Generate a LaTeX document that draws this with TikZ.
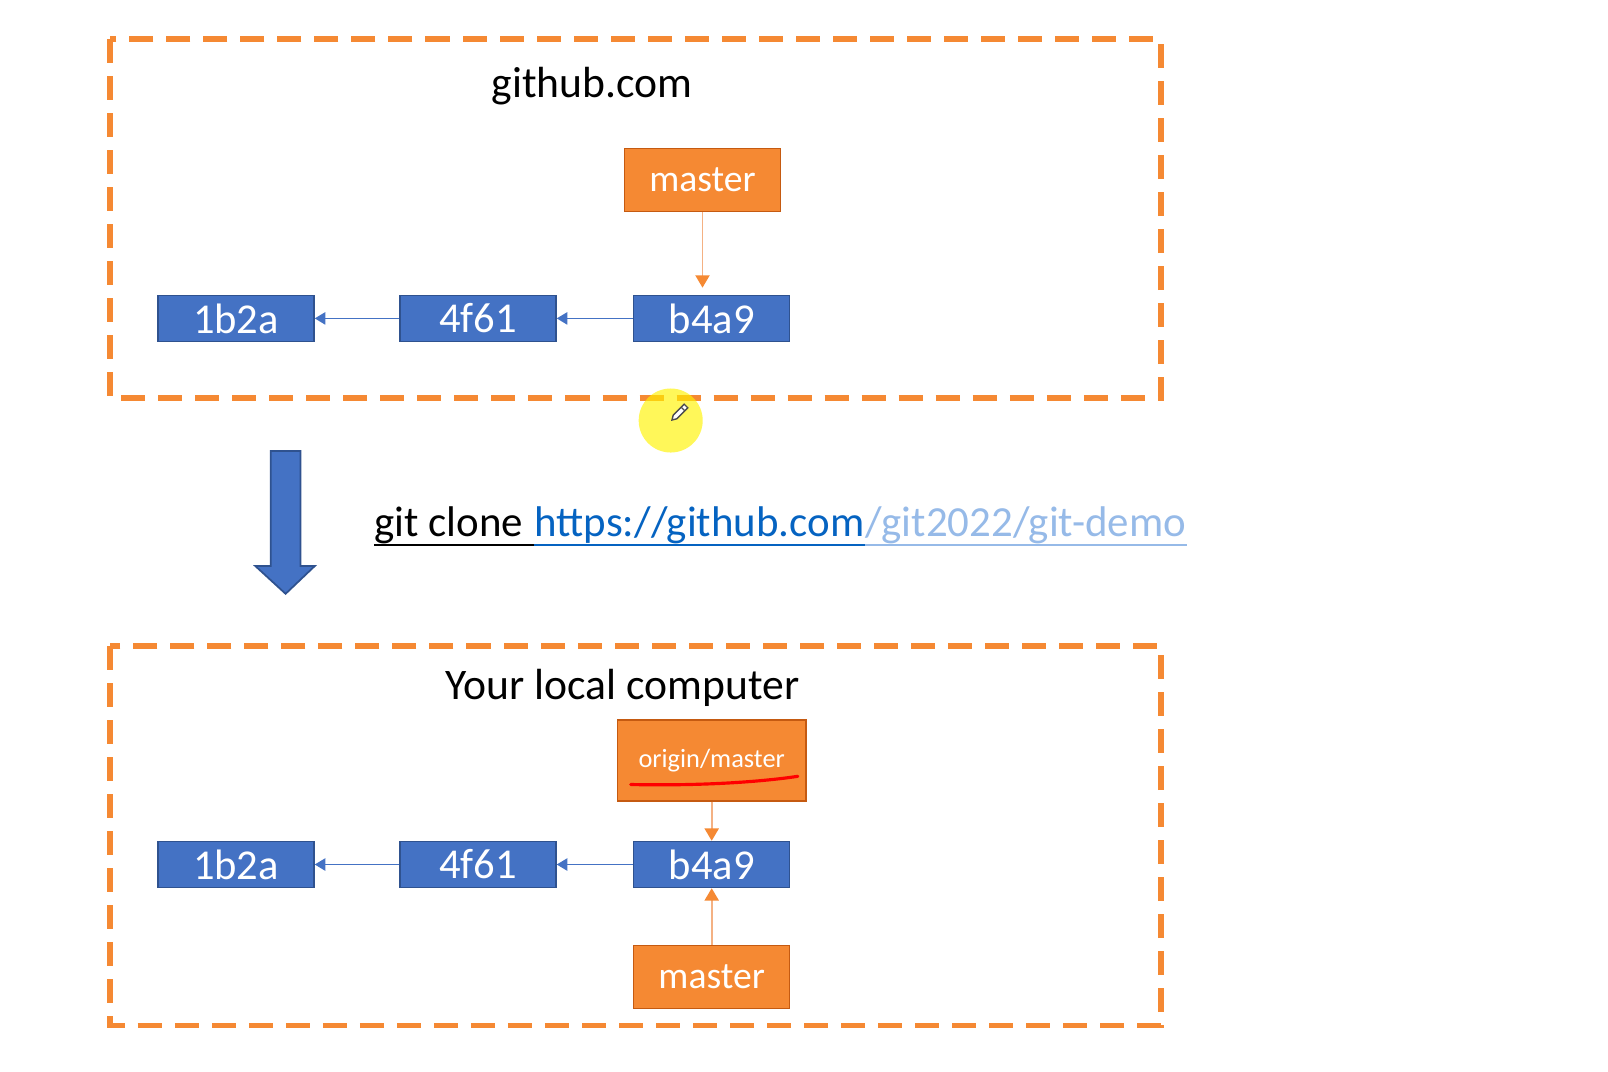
\documentclass[tikz,border=0pt]{standalone}
\usepackage{fontspec}
\setmainfont{Carlito}
\usetikzlibrary{arrows.meta}
\definecolor{branchorange}{RGB}{245,137,51}
\definecolor{branchedge}{RGB}{197,90,17}
\definecolor{pointerline}{RGB}{244,177,131}
\definecolor{commitblue}{RGB}{68,114,196}
\definecolor{commitedge}{RGB}{47,82,143}
\definecolor{urlblue}{RGB}{5,99,193}
\definecolor{urlblur}{RGB}{150,186,232}

\begin{document}
\begin{tikzpicture}[x=0.01cm, y=-0.01cm,
    region/.style={draw=branchorange, line width=1.6pt, dash pattern=on 0.24cm off 0.13cm},
    heading/.style={font=\fontsize{12.4}{14}\selectfont},
    commit/.style={draw=commitedge, fill=commitblue, text=white, minimum width=1.56cm, minimum height=0.46cm, inner sep=0pt, font=\fontsize{12.1}{13}\selectfont},
    branch/.style={draw=branchedge, fill=branchorange, text=white, minimum width=1.56cm, minimum height=0.63cm, inner sep=0pt, font=\fontsize{10.7}{12}\selectfont},
    parent/.style={draw=commitblue, line width=0.4pt, -{Triangle[length=3pt,width=3.5pt]}},
    pointer/.style={draw=pointerline, line width=0.5pt, -{Triangle[length=3.5pt,width=4pt,color=branchorange]}},
    cmdtext/.style={anchor=base west, inner sep=0pt, font=\fontsize{12.2}{14}\selectfont}]
    \useasboundingbox (0,0) rectangle (1608,1072);

    \draw[region] (110,39) rectangle (1161,398);
    \node[heading] (remote) at (592,86) {github.com};
    \node[branch] (rmaster) at (702.5,180) {master};
    \node[commit] (ra) at (236,318.4) {1b2a};
    \node[commit] (rb) at (478,318.4) {4f61};
    \node[commit] (rc) at (711.7,318.4) {b4a9};
    \draw[parent] (rb) -- (ra);
    \draw[parent] (rc) -- (rb);
    \draw[pointer] (rmaster.south) -- ([yshift=2pt]rmaster.south |- rc.north);

    \fill[yellow, opacity=0.65] (670.7,420.5) circle (0.32cm);
    \filldraw[fill=white, draw=black!70, line width=0.4pt] (672,420) -- (676.8,418.8) -- (687.8,407.8) -- (684.2,404.2) -- (673.2,415.2) -- cycle;
    \draw[black!70, line width=0.4pt] (684.6,410.6) -- (681.4,407.4);

    \filldraw[fill=commitblue, draw=commitedge, line width=0.5pt] (270.7,451) -- (300.5,451) -- (300.5,566) -- (314.8,566) -- (285.6,593.8) -- (255.3,566) -- (270.7,566) -- cycle;

    \node[cmdtext] (cmd) at (374,536) {git clone};
    \node[cmdtext, text=urlblue] (url) at ([xshift=2.8pt]cmd.base east) {https://github.com};
    \node[cmdtext, text=urlblur] (rest) at (url.base east) {/git2022/git-demo};
    \draw[line width=0.6pt] ([yshift=-2.6pt]cmd.base west) -- ([yshift=-2.6pt]url.base west);
    \draw[urlblue, line width=0.6pt] ([yshift=-2.6pt]url.base west) -- ([yshift=-2.6pt]url.base east);
    \draw[urlblur, line width=0.6pt] ([yshift=-2.6pt]rest.base west) -- ([yshift=-2.6pt]rest.base east);

    \draw[region] (110,646) rectangle (1161,1025.5);
    \node[heading] (local) at (622.5,688) {Your local computer};
    \node[branch, minimum width=1.887cm, minimum height=0.81cm, font=\fontsize{7.5}{9}\selectfont] (origin) at (711.7,760.4) {origin/master};
    \draw[red, line width=0.9pt, line cap=round] (630.7,784.5) .. controls (700,786) and (760,782) .. (797.8,776.3);
    \node[commit] (la) at (236,864.5) {1b2a};
    \node[commit] (lb) at (478,864.5) {4f61};
    \node[commit] (lc) at (711.7,864.5) {b4a9};
    \node[branch] (lmaster) at (711.7,977) {master};
    \draw[parent] (lb) -- (la);
    \draw[parent] (lc) -- (lb);
    \draw[pointer] (origin) -- (lc);
    \draw[pointer] (lmaster) -- (lc);
\end{tikzpicture}
\end{document}
